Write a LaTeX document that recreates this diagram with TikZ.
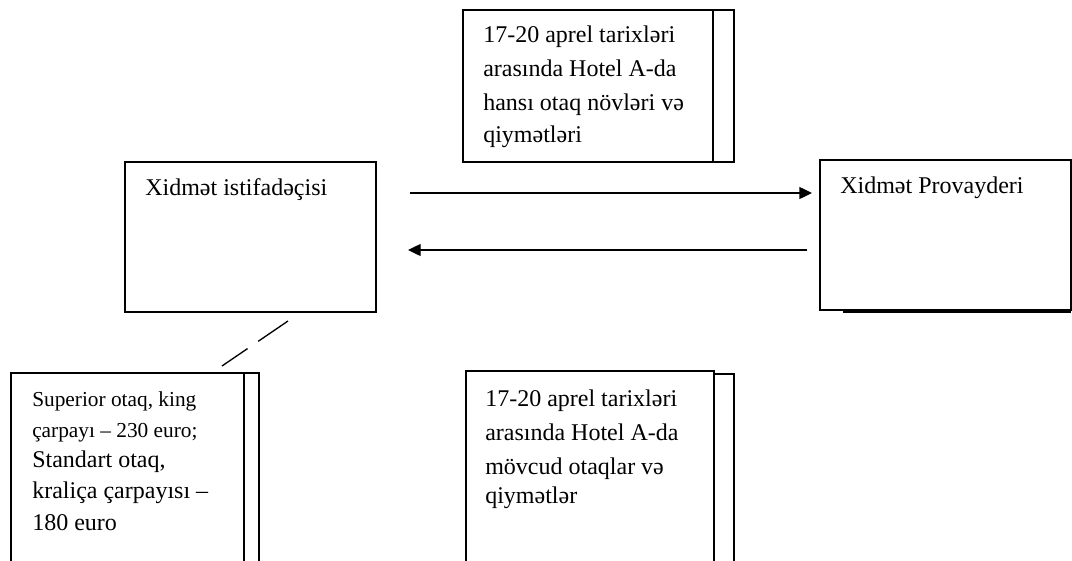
\documentclass[tikz,border=0pt]{standalone}
\usepackage{fontspec}
\setmainfont{Liberation Serif}
\usetikzlibrary{arrows.meta,fit}
\begin{document}
\begin{tikzpicture}[x=0.75pt,y=-0.75pt,
  box/.style={draw, line width=0.8pt, inner sep=0pt, outer sep=0pt},
  frame/.style={line width=0.8pt},
  lbl/.style={anchor=base west, inner sep=0pt, align=left, font=\fontsize{18}{25.5}\selectfont},
  arr/.style={-{Triangle[length=9.5pt,width=9pt]}, line width=1pt},
  dashline/.style={line width=1pt, dash pattern=on 27pt off 9.75pt}]
\useasboundingbox (0,0) rectangle (1072,561);
\clip (0,0) rectangle (1072,561);

% boxes
\node[box, fit={(463,10) (734,162)}] (q) {};
\draw[frame] ([xshift=-15.75pt]q.north east) -- ([xshift=-15.75pt]q.south east);

\node[box, fit={(125,162) (376,312)}] (user) {};
\node[box, fit={(820,160) (1071,310)}] (prov) {};
\draw[frame] ([xshift=17.25pt,yshift=-1.5pt]prov.south west) -- ([yshift=-1.5pt]prov.south east);

\node[box, fit={(11,373) (259,620)}] (ans) {};
\draw[frame] ([xshift=-11.25pt]ans.north east) -- ([xshift=-11.25pt]ans.south east);

\node[box, fit={(466,371) (714,620)}] (resp) {};
\draw[frame] ([yshift=-2.25pt]resp.north east) -- ++(20,0) -- ++(0,260);

% texts (base anchor = baseline of last line)
\node[lbl] (qt) at (483,142) {17-20 aprel tarixləri\\ arasında Hotel A-da\\ hansı otaq növləri və\\[-2pt] qiymətləri};
\node[lbl] (ut) at (145,195) {Xidmət istifadəçisi};
\node[lbl] (pt) at (840,193) {Xidmət Provayderi};
\node[lbl] (rt) at (485,503) {17-20 aprel tarixləri\\ arasında Hotel A-da\\ mövcud otaqlar və\\[-4pt] qiymətlər};
\node[lbl] (at) at (32,530) {{\fontsize{16}{22}\selectfont Superior otaq, king}\\[-2pt] {\fontsize{16}{22}\selectfont çarpayı – 230 euro;}\\[-3pt] Standart otaq,\\[-2pt] kraliça çarpayısı –\\[-2pt] 180 euro};

% connectors
\draw[arr, shorten <=25.5pt, shorten >=6pt] (user.east |- 0,193) -- (prov.west |- 0,193);
\draw[arr, shorten <=9.75pt, shorten >=24pt] (prov.west |- 0,250) -- (user.east |- 0,250);
\coordinate (d1) at (288,321);
\coordinate (d2) at (222,366);
\draw[dashline] (d1) -- (d2);
\end{tikzpicture}
\end{document}
